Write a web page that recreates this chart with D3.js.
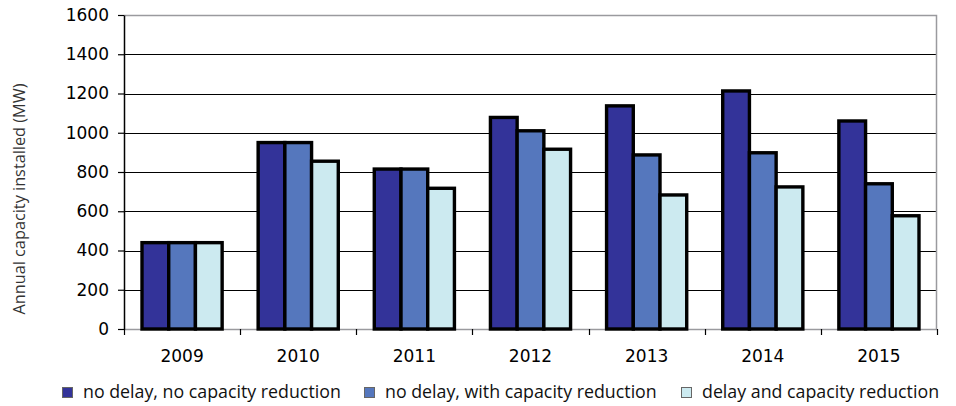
<!DOCTYPE html>
<html>
<head>
<meta charset="utf-8">
<script src="https://cdn.jsdelivr.net/npm/d3@7/dist/d3.min.js"></script>
<style>
  html, body { margin: 0; padding: 0; background: #fff; }
  svg { display: block; }
</style>
</head>
<body>
<svg id="chart" width="956" height="406"></svg>
<script>
// Annual installed capacity per scenario, MW
const years = ["2009", "2010", "2011", "2012", "2013", "2014", "2015"];
const seriesNames = [
  "no delay, no capacity reduction",
  "no delay, with capacity reduction",
  "delay and capacity reduction"
];
const noDelayNoReduction   = [440, 950, 815, 1078, 1137, 1213, 1060];
const noDelayWithReduction = [440, 950, 815, 1010, 887, 898, 740];
const delayAndReduction    = [440, 855, 717, 916, 683, 724, 577];
const seriesColors = ["#333399", "#5577BD", "#CCEAF0"];
const yTicks = [0, 200, 400, 600, 800, 1000, 1200, 1400, 1600];

const seriesValues = [noDelayNoReduction, noDelayWithReduction, delayAndReduction];

const svg = d3.select("#chart");
const plot = { left: 124, right: 937, top: 15, bottom: 329 };

const x0 = d3.scaleBand().domain(years).range([plot.left, plot.right]).paddingInner(0.31).paddingOuter(0.155);
const x1 = d3.scaleBand().domain(d3.range(seriesNames.length)).range([0, x0.bandwidth()]);
const y = d3.scaleLinear().domain([0, 1600]).range([plot.bottom, plot.top]);

// horizontal gridlines
svg.append("g")
  .selectAll("line")
  .data(yTicks.filter(t => t > 0 && t < 1600))
  .join("line")
  .attr("x1", plot.left).attr("x2", plot.right)
  .attr("y1", d => Math.round(y(d)) + 0.5).attr("y2", d => Math.round(y(d)) + 0.5)
  .attr("stroke", "#000").attr("stroke-width", 1.2);

// plot frame (top, right, bottom) in grey
svg.append("path")
  .attr("d", `M${plot.left},${plot.top + 0.5}H${plot.right - 0.5}V${plot.bottom + 0.5}H${plot.left}`)
  .attr("fill", "none").attr("stroke", "#9a9a9e").attr("stroke-width", 1.5);

// bars
const groups = svg.append("g")
  .selectAll("g")
  .data(years)
  .join("g")
  .attr("transform", d => `translate(${x0(d)},0)`);

groups.selectAll("rect")
  .data((d, i) => seriesValues.map((vals, s) => ({ s, v: vals[i] })))
  .join("rect")
  .attr("x", d => x1(d.s))
  .attr("width", x1.bandwidth())
  .attr("y", d => y(d.v))
  .attr("height", d => y(0) - y(d.v))
  .attr("fill", d => seriesColors[d.s])
  .attr("stroke", "#000")
  .attr("stroke-width", 3.4)
  .attr("stroke-linejoin", "miter");

// y axis
const yAxis = d3.axisLeft(y).tickValues(yTicks).tickFormat(d3.format("d"))
  .tickSize(6).tickPadding(9).tickSizeOuter(0);
const gy = svg.append("g").attr("transform", `translate(${plot.left},0)`).call(yAxis);
gy.attr("font-family", "DejaVu Sans").attr("font-size", 17);
gy.select(".domain").attr("stroke", "#000").attr("stroke-width", 1.5);
gy.selectAll(".tick line").attr("stroke", "#000").attr("stroke-width", 1.2);
gy.selectAll(".tick text").attr("fill", "#000");

// x axis: ticks at category boundaries
const boundaries = years.map(d => x0(d) - x0.step() * x0.paddingInner() / 2).concat([plot.right]);
svg.append("g")
  .selectAll("line")
  .data(boundaries)
  .join("line")
  .attr("x1", d => Math.round(d) + 0.5).attr("x2", d => Math.round(d) + 0.5)
  .attr("y1", plot.bottom).attr("y2", plot.bottom + 6)
  .attr("stroke", "#000").attr("stroke-width", 1.2);

svg.append("g")
  .attr("font-family", "DejaVu Sans")
  .attr("font-size", 17)
  .selectAll("text")
  .data(years)
  .join("text")
  .attr("x", d => x0(d) + x0.bandwidth() / 2)
  .attr("y", 362)
  .attr("text-anchor", "middle")
  .attr("fill", "#000")
  .text(d => d);

// y axis title
svg.append("text")
  .attr("transform", "translate(25,199) rotate(-90)")
  .attr("text-anchor", "middle")
  .attr("font-family", "Open Sans")
  .attr("font-size", 16.3)
  .attr("fill", "#333")
  .text("Annual capacity installed (MW)");

// legend
const legendX = [62, 364, 681];
const legend = svg.append("g")
  .selectAll("g")
  .data(seriesNames)
  .join("g")
  .attr("transform", (d, i) => `translate(${legendX[i]},387)`);

legend.append("rect")
  .attr("x", 0.5).attr("y", 0.5)
  .attr("width", 10).attr("height", 10)
  .attr("fill", (d, i) => seriesColors[i])
  .attr("stroke", "#666").attr("stroke-width", 1);

legend.append("text")
  .attr("x", 21).attr("y", 11)
  .attr("font-family", "Open Sans")
  .attr("font-size", 17.8)
  .attr("fill", "#111")
  .text(d => d);
</script>
</body>
</html>
